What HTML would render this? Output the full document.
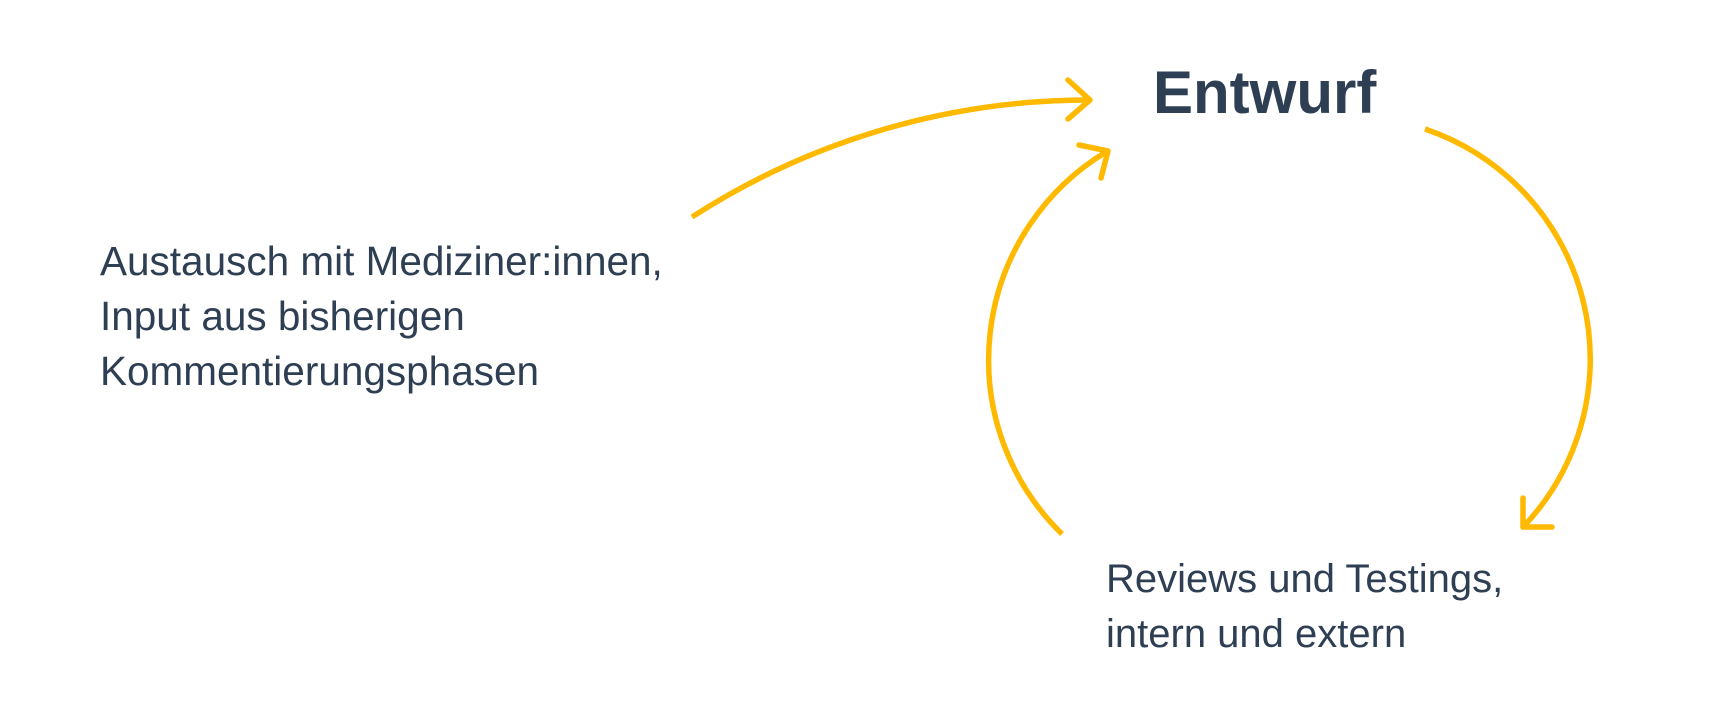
<!DOCTYPE html>
<html>
<head>
<meta charset="utf-8">
<style>
  html, body { margin:0; padding:0; background:#ffffff; }
  body { width:1730px; height:701px; overflow:hidden; }
  svg { display:block; }
  .t { font-family: "Liberation Sans", "DejaVu Sans", sans-serif; fill:#2e3e53; }
</style>
</head>
<body>
<svg width="1730" height="701" viewBox="0 0 1730 701" xmlns="http://www.w3.org/2000/svg">
  <rect width="1730" height="701" fill="#ffffff"/>

  <!-- Title -->
  <text class="t" x="1153" y="113" font-size="60" font-weight="bold">Entwurf</text>

  <!-- Left label -->
  <text class="t" x="100" y="275" font-size="40.5">Austausch mit Mediziner:innen,</text>
  <text class="t" x="100" y="330" font-size="40.5">Input aus bisherigen</text>
  <text class="t" x="100" y="385" font-size="40.5">Kommentierungsphasen</text>

  <!-- Bottom right label -->
  <text class="t" x="1106" y="592" font-size="40">Reviews und Testings,</text>
  <text class="t" x="1106" y="647" font-size="40">intern und extern</text>

  <g fill="none" stroke="#ffb900" stroke-width="5.5">
    <!-- Arrow 1: from left text to Entwurf -->
    <path d="M692,217 A732,732 0 0 1 1089,100" stroke-linecap="butt"/>
    <polyline points="1068,80 1090,100 1068,119" stroke-linecap="round" stroke-linejoin="round"/>

    <!-- Arrow 2: from reviews up-left arc to Entwurf -->
    <path d="M1062,534 A243,243 0 0 1 1106,152" stroke-linecap="butt"/>
    <polyline points="1079,145 1108,151 1101,178" stroke-linecap="round" stroke-linejoin="round"/>

    <!-- Arrow 3: from Entwurf right arc down to reviews -->
    <path d="M1425,129 A243,243 0 0 1 1524,526" stroke-linecap="butt"/>
    <polyline points="1523,498 1523,527 1552,527" stroke-linecap="round" stroke-linejoin="round"/>
  </g>
</svg>
</body>
</html>
